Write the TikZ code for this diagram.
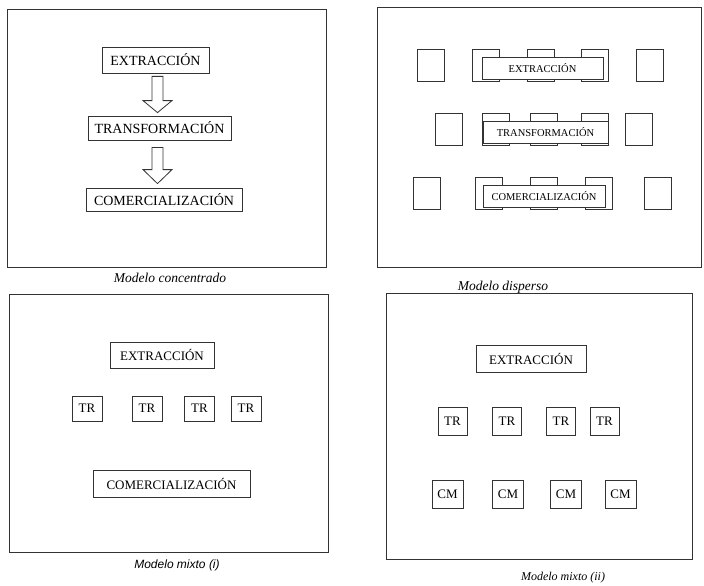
\documentclass[tikz,border=0pt]{standalone}
\usepackage{fontspec}
\setmainfont{Liberation Serif}
\newfontfamily\capsans{Liberation Sans}
\usetikzlibrary{calc}

\tikzset{
    frame/.style={draw=black!80, line width=0.9pt},
    stagebox/.style={draw=black!80, line width=0.8pt, inner sep=0pt, font=\fontsize{14}{16}\selectfont},
    midbox/.style={draw=black!80, line width=0.8pt, inner sep=0pt, font=\fontsize{13}{15}\selectfont},
    tinybox/.style={draw=black!80, fill=white, line width=0.8pt, inner sep=0pt, minimum height=22pt, font=\fontsize{10.5}{12}\selectfont},
    unitbox/.style={draw=black!80, line width=0.8pt, inner sep=0pt, minimum width=27pt, minimum height=32pt},
    hollowarrow/.style={draw=black!80, line width=0.8pt, fill=white},
    caption/.style={font=\fontsize{13.5}{15}\selectfont\itshape}
}

\begin{document}
\begin{tikzpicture}[x=1pt, y=-1pt]

    \useasboundingbox (0,0) rectangle (704,586);

    % Modelo concentrado
    \draw[frame] (7,9) rectangle (326,267);
    \node[stagebox, minimum width=107pt, minimum height=26pt] (ex1) at (155.5,60) {EXTRACCIÓN};
    \node[stagebox, minimum width=143pt, minimum height=24pt] (tr1) at (159.5,128) {TRANSFORMACIÓN};
    \node[stagebox, minimum width=156pt, minimum height=23pt] (co1) at (164,199.5) {COMERCIALIZACIÓN};
    \node[caption] (cap1) at (170,278) {Modelo concentrado};

    % hollow arrows between the stages
    \coordinate (a1s) at ($(ex1.south)+(2,3)$);
    \coordinate (a1e) at ($(tr1.north)+(-2,-3)$);
    \draw[hollowarrow] ($(a1s)+(-5.5,0)$) -- ($(a1s)+(5.5,0)$) -- ($(a1e)+(5.5,-12)$) -- ($(a1e)+(14.5,-12)$)
        -- (a1e) -- ($(a1e)+(-14.5,-12)$) -- ($(a1e)+(-5.5,-12)$) -- cycle;
    \coordinate (a2s) at ($(tr1.south)+(-2,7)$);
    \coordinate (a2e) at ($(co1.north)+(-6.5,-4)$);
    \draw[hollowarrow] ($(a2s)+(-5.5,0)$) -- ($(a2s)+(5.5,0)$) -- ($(a2e)+(5.5,-14)$) -- ($(a2e)+(14.5,-14)$)
        -- (a2e) -- ($(a2e)+(-14.5,-14)$) -- ($(a2e)+(-5.5,-14)$) -- cycle;

    % Modelo disperso
    \draw[frame] (377,7) rectangle (701,267);
    \node[unitbox] (d11) at (430.5,65.5) {};
    \node[unitbox] (d12) at (486,65.5) {};
    \node[unitbox] (d13) at (540.5,65.5) {};
    \node[unitbox] (d14) at (595,65.5) {};
    \node[unitbox] (d15) at (650,65.5) {};
    \node[tinybox, minimum width=121pt] (ex2) at (542.5,68) {EXTRACCIÓN};

    \node[unitbox] (d21) at (449,129) {};
    \node[unitbox] (d22) at (496,129) {};
    \node[unitbox] (d23) at (544,129) {};
    \node[unitbox] (d24) at (595,129) {};
    \node[unitbox] (d25) at (638.5,129) {};
    \node[tinybox, minimum width=125pt] (tr2) at (545.5,132) {TRANSFORMACIÓN};

    \node[unitbox] (d31) at (426.5,193.5) {};
    \node[unitbox] (d32) at (488.5,193.5) {};
    \node[unitbox] (d33) at (544,193.5) {};
    \node[unitbox] (d34) at (599,193.5) {};
    \node[unitbox] (d35) at (657.5,193.5) {};
    \node[tinybox, minimum width=122pt] (co2) at (544,196) {COMERCIALIZACIÓN};
    \node[caption] (cap2) at (503,287) {Modelo disperso};

    % Modelo mixto (i)
    \draw[frame] (9,294) rectangle (328,552);
    \node[midbox, minimum width=104pt, minimum height=26pt] (ex3) at (162,355) {EXTRACCIÓN};
    \node[midbox, minimum width=30pt, minimum height=25pt] (tr31) at (87,408.5) {TR};
    \node[midbox, minimum width=30pt, minimum height=25pt] (tr32) at (147,408.5) {TR};
    \node[midbox, minimum width=30pt, minimum height=25pt] (tr33) at (199.5,408.5) {TR};
    \node[midbox, minimum width=30pt, minimum height=25pt] (tr34) at (246,408.5) {TR};
    \node[midbox, minimum width=157pt, minimum height=27pt] (co3) at (171.5,483.5) {COMERCIALIZACIÓN};
    \node[font=\fontsize{12}{14}\selectfont\capsans\itshape] (cap3) at (177,565) {Modelo mixto (i)};

    % Modelo mixto (ii)
    \draw[frame] (386,293) rectangle (692,559);
    \node[midbox, minimum width=110pt, minimum height=27pt] (ex4) at (531,358.5) {EXTRACCIÓN};
    \node[midbox, minimum width=29pt, minimum height=28pt] (tr41) at (452.5,421) {TR};
    \node[midbox, minimum width=29pt, minimum height=28pt] (tr42) at (507,421) {TR};
    \node[midbox, minimum width=29pt, minimum height=28pt] (tr43) at (561,421) {TR};
    \node[midbox, minimum width=29pt, minimum height=28pt] (tr44) at (604.5,421) {TR};
    \node[midbox, minimum width=31pt, minimum height=28pt] (cm41) at (447.5,494) {CM};
    \node[midbox, minimum width=31pt, minimum height=28pt] (cm42) at (508,494) {CM};
    \node[midbox, minimum width=31pt, minimum height=28pt] (cm43) at (566,494) {CM};
    \node[midbox, minimum width=31pt, minimum height=28pt] (cm44) at (620.5,494) {CM};
    \node[caption, font=\fontsize{12}{14}\selectfont\itshape] (cap4) at (563,578) {Modelo mixto (ii)};

\end{tikzpicture}
\end{document}
